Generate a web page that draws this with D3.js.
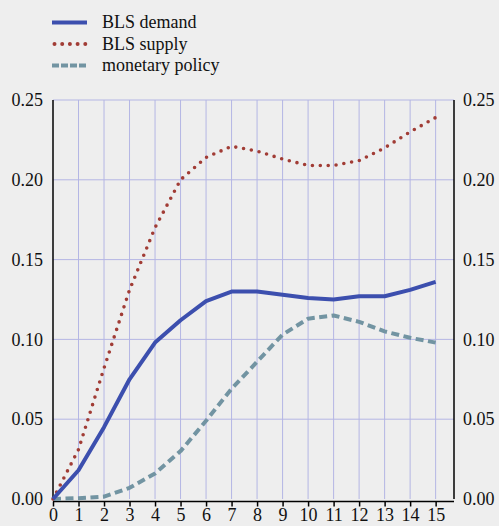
<!DOCTYPE html>
<html>
<head>
<meta charset="utf-8">
<script src="https://cdn.jsdelivr.net/npm/d3@7"></script>
</head>
<body style="margin:0;background:#eeeeee">
<svg id="chart" width="499" height="526" font-family="Liberation Serif"></svg>
<script>
// horizon (quarters)
var quarters = [0, 1, 2, 3, 4, 5, 6, 7, 8, 9, 10, 11, 12, 13, 14, 15];

var blsDemand = [0.000, 0.018, 0.045, 0.075, 0.098, 0.112, 0.124, 0.130, 0.130, 0.128, 0.126, 0.125, 0.127, 0.127, 0.131, 0.136];
var blsSupply = [0.000, 0.031, 0.082, 0.131, 0.170, 0.200, 0.214, 0.221, 0.218, 0.213, 0.209, 0.209, 0.212, 0.220, 0.230, 0.239];
var monPolicy = [0.000, 0.0005, 0.0015, 0.007, 0.016, 0.030, 0.049, 0.069, 0.086, 0.103, 0.113, 0.115, 0.111, 0.105, 0.101, 0.098];

var yTicks = [0, 0.05, 0.10, 0.15, 0.20, 0.25];

var seriesNames = ["BLS demand", "BLS supply", "monetary policy"];

var svg = d3.select("#chart");
var margin = {left: 53, right: 45, top: 100, bottom: 27};
var width = 499 - margin.left - margin.right,
    height = 526 - margin.top - margin.bottom;

var x = d3.scaleLinear().domain([0, 15.72]).range([0, width]);
var y = d3.scaleLinear().domain([0, 0.25]).range([height, 0]);

var g = svg.append("g").attr("transform", "translate(" + margin.left + "," + margin.top + ")");

// grid
g.selectAll(".vgrid").data(quarters.slice(1)).enter().append("line")
  .attr("x1", function(d) { return x(d); }).attr("x2", function(d) { return x(d); })
  .attr("y1", 0).attr("y2", height)
  .attr("stroke", "#b4b6e4").attr("stroke-width", 1);

g.selectAll(".hgrid").data(yTicks.slice(1)).enter().append("line")
  .attr("x1", 0).attr("x2", width)
  .attr("y1", function(d) { return y(d); }).attr("y2", function(d) { return y(d); })
  .attr("stroke", "#b4b6e4").attr("stroke-width", 1);

// axes
var fmt = d3.format(".2f");
var yLeft = g.append("g").call(d3.axisLeft(y).tickValues(yTicks).tickFormat(fmt).tickSize(0).tickPadding(10));
var yRight = g.append("g").attr("transform", "translate(" + width + ",0)")
  .call(d3.axisRight(y).tickValues(yTicks).tickFormat(fmt).tickSize(0).tickPadding(9));
var xAxis = g.append("g").attr("transform", "translate(0," + (height + 2.5) + ")")
  .call(d3.axisBottom(x).tickValues(quarters).tickFormat(d3.format("d")).tickSize(5).tickPadding(1.5));

[yLeft, yRight, xAxis].forEach(function(a) {
  a.attr("font-family", "Liberation Serif").attr("font-size", 18);
  a.select(".domain").attr("stroke", "#000").attr("stroke-width", 1.5);
  a.selectAll("text").attr("fill", "#111");
  a.selectAll(".tick line").attr("stroke", "#000").attr("stroke-width", 1.5);
});
yLeft.select(".domain").attr("d", "M0," + height + "V0");
yRight.select(".domain").attr("d", "M0," + height + "V0");
xAxis.select(".domain").attr("d", "M0,0H" + width);

var line = d3.line()
  .x(function(d, i) { return x(quarters[i]); })
  .y(function(d) { return y(d); });

var styles = [
  {color: "#3c4fae", width: 4, dash: null, cap: "butt"},
  {color: "#a13c35", width: 3.6, dash: "0,7.9", cap: "round"},
  {color: "#7294a2", width: 4, dash: "8,4.5", cap: "butt"}
];
var allSeries = [blsDemand, blsSupply, monPolicy];

// draw monetary first, demand on top
[2, 1, 0].forEach(function(k) {
  g.append("path").datum(allSeries[k])
    .attr("d", line)
    .attr("fill", "none")
    .attr("stroke", styles[k].color)
    .attr("stroke-width", styles[k].width)
    .attr("stroke-linecap", styles[k].cap)
    .attr("stroke-linejoin", "round")
    .attr("stroke-dasharray", styles[k].dash);
});

// legend
var legY = [22.5, 44, 65.5];
var legDash = [null, "0,7.7", "7,2"];
svg.selectAll(".legline").data(seriesNames).enter().append("line")
  .attr("x1", function(d, k) { return k === 1 ? 54.5 : 52; }).attr("x2", 87)
  .attr("y1", function(d, k) { return legY[k]; }).attr("y2", function(d, k) { return legY[k]; })
  .attr("stroke", function(d, k) { return styles[k].color; }).attr("stroke-width", 4)
  .attr("stroke-linecap", function(d, k) { return styles[k].cap; })
  .attr("stroke-dasharray", function(d, k) { return legDash[k]; });
svg.selectAll(".legtext").data(seriesNames).enter().append("text")
  .attr("x", 102).attr("y", function(d, k) { return legY[k] + 5.5; })
  .attr("font-size", 18).attr("fill", "#111")
  .text(function(d) { return d; });
</script>
</body>
</html>
